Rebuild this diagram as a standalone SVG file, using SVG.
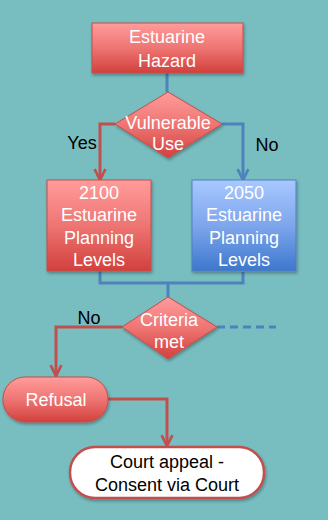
<svg xmlns="http://www.w3.org/2000/svg" width="328" height="520" viewBox="0 0 328 520">
<defs>
<linearGradient id="gr" x1="0" y1="0" x2="0" y2="1"><stop offset="0" stop-color="#FF9C9B"/><stop offset="0.5" stop-color="#EE7573"/><stop offset="1" stop-color="#D2403D"/></linearGradient>
<linearGradient id="gb" x1="0" y1="0" x2="0" y2="1"><stop offset="0" stop-color="#A8C8FF"/><stop offset="0.5" stop-color="#7EA6EC"/><stop offset="1" stop-color="#3D77CD"/></linearGradient>
<filter id="sh" x="-10%" y="-10%" width="130%" height="130%"><feDropShadow dx="1" dy="2" stdDeviation="1.5" flood-color="#000" flood-opacity="0.3"/></filter>
<marker id="ar" viewBox="0 0 10 10" refX="9" refY="5" markerWidth="4.5" markerHeight="4.5" orient="auto" markerUnits="strokeWidth"><path d="M1,1 L9,5 L1,9" fill="none" stroke="#C0504D" stroke-width="2"/></marker>
<marker id="ab" viewBox="0 0 10 10" refX="9" refY="5" markerWidth="4.5" markerHeight="4.5" orient="auto" markerUnits="strokeWidth"><path d="M1,1 L9,5 L1,9" fill="none" stroke="#4F81BD" stroke-width="2"/></marker>
</defs>
<style>
.t{font-family:"Liberation Sans",Arial,sans-serif;font-size:18px;text-anchor:middle}
.w{fill:#fff}
.k{fill:#000}
.r{fill:none;stroke:#C0504D;stroke-width:3}
.b{fill:none;stroke:#4F81BD;stroke-width:3}
.nr{fill:url(#gr);stroke:#C0504D;stroke-width:1;filter:url(#sh)}
.nb{fill:url(#gb);stroke:#4F81BD;stroke-width:1;filter:url(#sh)}
</style>
<rect width="328" height="520" fill="#78BDC0"/>
<g id="connectors">
<path class="b" d="M167,73 V92"/>
<path class="r" d="M115,124 H100 V180" marker-end="url(#ar)"/>
<path class="b" d="M222,124 H243 V180" marker-end="url(#ab)"/>
<path class="b" d="M100,271 V283 H243 V272"/>
<path class="b" d="M168,283 V297"/>
<path class="b" d="M217,327 H276" stroke-dasharray="8,5"/>
<path class="r" d="M122,327 H56 V376" marker-end="url(#ar)"/>
<path class="r" d="M108,399 H167 V446" marker-end="url(#ar)"/>
</g>
<g id="hazard">
<rect class="nr" x="92" y="23" width="151" height="50"/>
<text class="t w" x="167" y="43">Estuarine</text>
<text class="t w" x="167" y="67">Hazard</text>
</g>
<g id="vulnerable">
<polygon class="nr" points="168,92 222,124 168,158 115,124"/>
<text class="t w" x="168" y="129">Vulnerable</text>
<text class="t w" x="168" y="150">Use</text>
</g>
<g id="labels">
<text class="t k" x="82" y="149">Yes</text>
<text class="t k" x="267" y="151">No</text>
<text class="t k" x="89" y="324">No</text>
</g>
<g id="l2100">
<rect class="nr" x="47" y="180" width="104" height="91"/>
<text class="t w" x="99" y="199">2100</text>
<text class="t w" x="99" y="221">Estuarine</text>
<text class="t w" x="99" y="244">Planning</text>
<text class="t w" x="99" y="266">Levels</text>
</g>
<g id="l2050">
<rect class="nb" x="192" y="180" width="104" height="91"/>
<text class="t w" x="244" y="199">2050</text>
<text class="t w" x="244" y="221">Estuarine</text>
<text class="t w" x="244" y="244">Planning</text>
<text class="t w" x="244" y="266">Levels</text>
</g>
<g id="criteria">
<polygon class="nr" points="168,297 217,327 168,359 122,327"/>
<text class="t w" x="169" y="326">Criteria</text>
<text class="t w" x="169" y="348">met</text>
</g>
<g id="refusal">
<rect class="nr" x="3" y="377" width="105" height="45" rx="22"/>
<text class="t w" x="56" y="406">Refusal</text>
</g>
<g id="court">
<rect x="70" y="447" width="194" height="51" rx="25" fill="#fff" stroke="#C0504D" stroke-width="2.5" filter="url(#sh)"/>
<text class="t k" x="167" y="468">Court appeal -</text>
<text class="t k" x="167" y="491">Consent via Court</text>
</g>
</svg>
